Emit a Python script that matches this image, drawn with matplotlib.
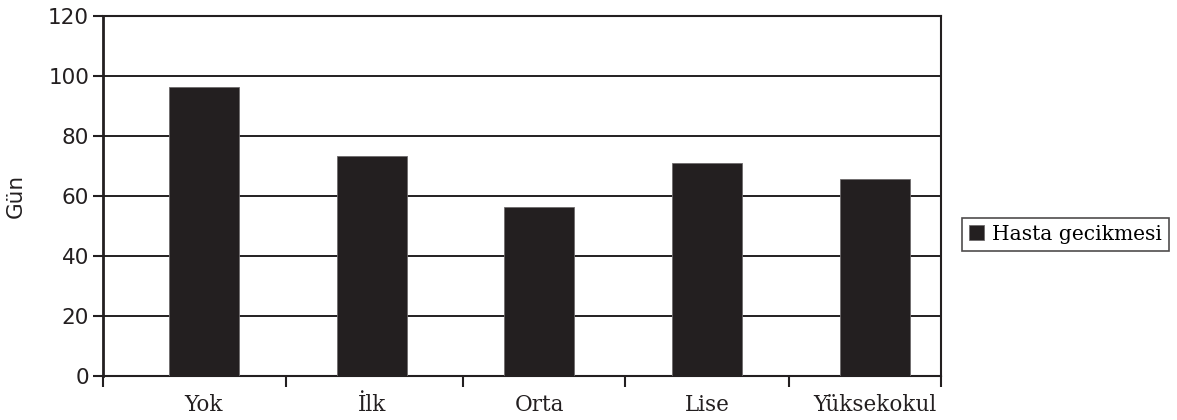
import matplotlib
matplotlib.use("Agg")
import matplotlib.pyplot as plt
import numpy as np

categories = ["Yok", "İlk", "Orta", "Lise", "Yüksekokul"]
values = [96.3, 73.2, 56.1, 71.0, 65.5]
yticks = [0, 20, 40, 60, 80, 100, 120]
# category separator ticks, as they sit in the original (not evenly spaced)
boundaries = [-0.602, 0.489, 1.542, 2.51, 3.487, 4.392]
series_name = "Hasta gecikmesi"

dark = "#231f20"

fig = plt.figure(figsize=(11.77, 4.2), dpi=100, facecolor="white")
ax = fig.add_axes([0.0875, 0.1055, 0.7117, 0.8571])

x = np.arange(len(categories))
ax.bar(x, values, width=0.417, color=dark, edgecolor="#6e6b6c", linewidth=0.6,
       label=series_name, zorder=3)

ax.set_xlim(boundaries[0], boundaries[-1])
ax.set_ylim(0, 120)
ax.set_yticks(yticks)
ax.set_yticklabels([str(v) for v in yticks], fontsize=15.5, color=dark,
                   family="DejaVu Sans")
ax.grid(axis="y", color=dark, linewidth=1.4, zorder=1)
ax.set_axisbelow(True)

# category labels under the bars, ticks on the separators
ax.set_xticks(x)
ax.set_xticklabels(categories, fontsize=15.5, color=dark, family="DejaVu Serif")
ax.tick_params(axis="x", which="major", length=0, pad=13)
ax.set_xticks(boundaries, minor=True)
ax.tick_params(axis="x", which="minor", length=8, width=1.5, color=dark,
               direction="out")
ax.tick_params(axis="y", length=7, width=1.5, color=dark, direction="out", pad=3)

for s in ax.spines.values():
    s.set_color(dark)
    s.set_linewidth(1.5)
ax.spines["left"].set_linewidth(2)

ax.set_ylabel("Gün", fontsize=15.5, color=dark, family="DejaVu Sans", labelpad=16)

leg = fig.legend(loc="center left", bbox_to_anchor=(0.8173, 0.4417),
                 prop={"family": "DejaVu Serif", "size": 14.6},
                 frameon=True, fancybox=False, edgecolor=dark,
                 handlelength=0.75, handleheight=0.75, handletextpad=0.4,
                 borderpad=0.35, borderaxespad=0)
leg.get_frame().set_linewidth(1.2)

fig.savefig("out.png", dpi=100, facecolor="white")
